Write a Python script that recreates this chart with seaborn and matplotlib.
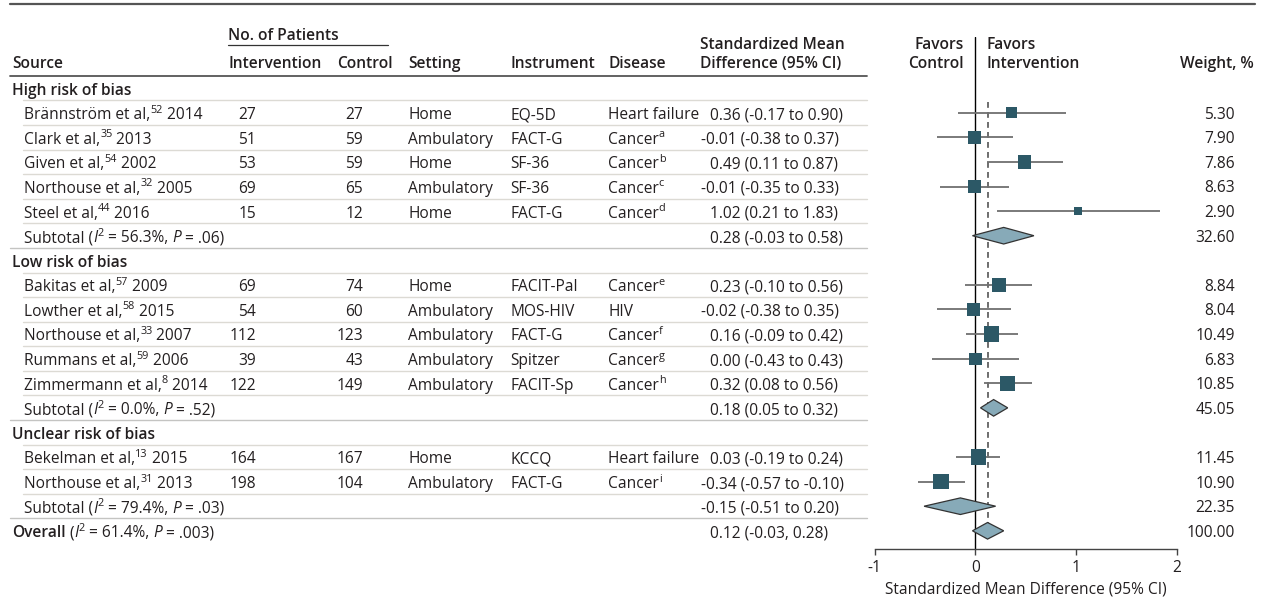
import matplotlib
matplotlib.use("Agg")
import matplotlib.pyplot as plt
import pandas as pd
import seaborn as sns

# study level data
study_names = ["Brännström et al,", "Clark et al,", "Given et al,", "Northouse et al,", "Steel et al,",
               "Bakitas et al,", "Lowther et al,", "Northouse et al,", "Rummans et al,", "Zimmermann et al,",
               "Bekelman et al,", "Northouse et al,"]
study_refs = ["52", "35", "54", "32", "44", "57", "58", "33", "59", "8", "13", "31"]
study_years = ["2014", "2013", "2002", "2005", "2016", "2009", "2015", "2007", "2006", "2014", "2015", "2013"]
study_group = [0, 0, 0, 0, 0, 1, 1, 1, 1, 1, 2, 2]
n_intervention = [27, 51, 53, 69, 15, 69, 54, 112, 39, 122, 164, 198]
n_control = [27, 59, 59, 65, 12, 74, 60, 123, 43, 149, 167, 104]
settings = ["Home", "Ambulatory", "Home", "Ambulatory", "Home", "Home", "Ambulatory", "Ambulatory",
            "Ambulatory", "Ambulatory", "Home", "Ambulatory"]
instruments = ["EQ-5D", "FACT-G", "SF-36", "SF-36", "FACT-G", "FACIT-Pal", "MOS-HIV", "FACT-G",
               "Spitzer", "FACIT-Sp", "KCCQ", "FACT-G"]
diseases = ["Heart failure", "Cancer", "Cancer", "Cancer", "Cancer", "Cancer", "HIV", "Cancer",
            "Cancer", "Cancer", "Heart failure", "Cancer"]
disease_notes = ["", "a", "b", "c", "d", "e", "", "f", "g", "h", "", "i"]
smd = [0.36, -0.01, 0.49, -0.01, 1.02, 0.23, -0.02, 0.16, 0.00, 0.32, 0.03, -0.34]
ci_low = [-0.17, -0.38, 0.11, -0.35, 0.21, -0.10, -0.38, -0.09, -0.43, 0.08, -0.19, -0.57]
ci_high = [0.90, 0.37, 0.87, 0.33, 1.83, 0.56, 0.35, 0.42, 0.43, 0.56, 0.24, -0.10]
weights = [5.30, 7.90, 7.86, 8.63, 2.90, 8.84, 8.04, 10.49, 6.83, 10.85, 11.45, 10.90]

# subgroup data
group_names = ["High risk of bias", "Low risk of bias", "Unclear risk of bias"]
subtotal_i2 = ["56.3%", "0.0%", "79.4%"]
subtotal_p = [".06", ".52", ".03"]
subtotal_smd = [0.28, 0.18, -0.15]
subtotal_low = [-0.03, 0.05, -0.51]
subtotal_high = [0.58, 0.32, 0.20]
subtotal_weight = [32.60, 45.05, 22.35]

overall_i2 = "61.4%"
overall_p = ".003"
overall_smd = 0.12
overall_low = -0.03
overall_high = 0.28
overall_weight = 100.00

x_ticks = [-1, 0, 1, 2]

TEXT = "#231f20"
SQUARE = "#2c5866"
DIAMOND = "#87aab8"
FS = 11.2
SUP = 7.8

sns.set_theme(style="white")
plt.rcParams["font.family"] = ["Open Sans", "DejaVu Sans"]
plt.rcParams["axes.unicode_minus"] = False
plt.rcParams["text.color"] = TEXT

W, H = 1265, 615
fig = plt.figure(figsize=(W / 100, H / 100), dpi=100)
base = fig.add_axes([0, 0, 1, 1])
base.set_xlim(0, W)
base.set_ylim(H, 0)
base.axis("off")
renderer = fig.canvas.get_renderer()


def ry(r):
    return 88.1 + 24.59 * r


def text_width(s, **kw):
    a = base.text(0, 0, "|" + s + "|", **kw)
    b = base.text(0, 0, "||", **kw)
    w = a.get_window_extent(renderer).width - b.get_window_extent(renderer).width
    a.remove()
    b.remove()
    return w


def draw_parts(x, y, parts):
    # parts: (string, kind) with kind in normal / bold / italic / sup
    for s, kind in parts:
        kw = {"fontsize": FS}
        dy = 0
        if kind == "bold":
            kw["fontweight"] = "semibold"
        elif kind == "italic":
            kw["fontstyle"] = "italic"
        elif kind == "sup":
            kw["fontsize"] = SUP
            dy = -6.5
        base.text(x, y + dy, s, va="baseline", ha="left", **kw)
        x += text_width(s, **kw)


# build row layout
rows = []
for g, gname in enumerate(group_names):
    rows.append(("group", g))
    for i, sg in enumerate(study_group):
        if sg == g:
            rows.append(("study", i))
    rows.append(("subtotal", g))
rows.append(("overall", None))

# header
base.plot([10, 1255], [4, 4], color="#555555", lw=1.6)
base.plot([10, 867], [76, 76], color="#555555", lw=1.3)
base.plot([228, 388], [45, 45], color="#333333", lw=0.9)
hdr = {"fontsize": FS, "fontweight": "semibold", "va": "baseline"}
base.text(228, 39.5, "No. of Patients", ha="left", **hdr)
base.text(12, 68.5, "Source", ha="left", **hdr)
base.text(228, 68.5, "Intervention", ha="left", **hdr)
base.text(337, 68.5, "Control", ha="left", **hdr)
base.text(408, 68.5, "Setting", ha="left", **hdr)
base.text(510, 68.5, "Instrument", ha="left", **hdr)
base.text(608, 68.5, "Disease", ha="left", **hdr)
base.text(700, 49, "Standardized Mean", ha="left", **hdr)
base.text(700, 68.5, "Difference (95% CI)", ha="left", **hdr)
base.text(964, 49, "Favors", ha="right", **hdr)
base.text(964, 68.5, "Control", ha="right", **hdr)
base.text(986, 49, "Favors", ha="left", **hdr)
base.text(986, 68.5, "Intervention", ha="left", **hdr)
base.text(1254, 68.5, "Weight, %", ha="right", **hdr)


def ci_text(y, est, lo, hi, sep=" to "):
    s = f"{est:.2f} ({lo:.2f}{sep}{hi:.2f})"
    base.text(701 if est < 0 else 710, y, s, fontsize=FS, va="baseline", ha="left")


for r, (kind, idx) in enumerate(rows):
    yc = ry(r)
    yb = yc + 6.5
    if kind != "overall":
        x0 = 10 if kind == "subtotal" else 23
        col = "#c4c4c2" if kind == "subtotal" else "#dcdad4"
        base.plot([x0, 867], [yc + 12.3, yc + 12.3], color=col, lw=1.0)
    if kind == "group":
        draw_parts(12, yb, [(group_names[idx], "bold")])
    elif kind == "study":
        draw_parts(24, yb, [(study_names[idx], "normal"), (study_refs[idx], "sup"),
                            (" " + study_years[idx], "normal")])
        base.text(256, yb, str(n_intervention[idx]), fontsize=FS, ha="right", va="baseline")
        base.text(363, yb, str(n_control[idx]), fontsize=FS, ha="right", va="baseline")
        base.text(408, yb, settings[idx], fontsize=FS, ha="left", va="baseline")
        base.text(510, yb, instruments[idx], fontsize=FS, ha="left", va="baseline")
        draw_parts(608, yb, [(diseases[idx], "normal"), (disease_notes[idx], "sup")])
        ci_text(yb, smd[idx], ci_low[idx], ci_high[idx])
        base.text(1235, yc + 6, f"{weights[idx]:.2f}", fontsize=FS, ha="right", va="baseline")
    elif kind == "subtotal":
        draw_parts(24, yb, [("Subtotal (", "normal"), ("I", "italic"), ("2", "sup"),
                            (" = " + subtotal_i2[idx] + ", ", "normal"), ("P", "italic"),
                            (" = " + subtotal_p[idx] + ")", "normal")])
        ci_text(yb, subtotal_smd[idx], subtotal_low[idx], subtotal_high[idx])
        base.text(1235, yc + 6, f"{subtotal_weight[idx]:.2f}", fontsize=FS, ha="right", va="baseline")
    else:
        draw_parts(12, yb, [("Overall", "bold"), (" (", "normal"), ("I", "italic"), ("2", "sup"),
                            (" = " + overall_i2 + ", ", "normal"), ("P", "italic"),
                            (" = " + overall_p + ")", "normal")])
        ci_text(yb, overall_smd, overall_low, overall_high, sep=", ")
        base.text(1235, yc + 6, f"{overall_weight:.2f}", fontsize=FS, ha="right", va="baseline")

# forest panel
row_of_study = {idx: r for r, (k, idx) in enumerate(rows) if k == "study"}
row_of_sub = {idx: r for r, (k, idx) in enumerate(rows) if k == "subtotal"}
overall_row = len(rows) - 1

df = pd.DataFrame({"smd": smd, "low": ci_low, "high": ci_high, "weight": weights,
                   "row": [row_of_study[i] for i in range(len(smd))]})

ax = fig.add_axes([874.7 / W, (H - 549) / H, 302.3 / W, 512 / H])
ax.set_facecolor("none")
ax.set_xlim(-1, 2)
ax.set_ylim(18.74, -2.08)

ax.axvline(0, color="black", lw=1.0, zorder=1)
ax.vlines(overall_smd, 0.55, 18.45, colors="#555555", lw=1.2, linestyles=(0, (3.5, 2.5)), zorder=1)
ax.hlines(df["row"], df["low"], df["high"], colors="#707070", lw=1.3, zorder=2)
k = 11.45
sns.scatterplot(data=df, x="smd", y="row", size="weight", sizes=(k * min(weights), k * max(weights)),
                size_norm=(min(weights), max(weights)), marker="s", color=SQUARE, linewidth=0,
                legend=False, ax=ax, zorder=3)

half_h = 8.3 / 24.59
for g in range(len(group_names)):
    r = row_of_sub[g]
    ax.fill([subtotal_low[g], subtotal_smd[g], subtotal_high[g], subtotal_smd[g]],
            [r, r - half_h, r, r + half_h], facecolor=DIAMOND, edgecolor="#333333", lw=0.9, zorder=3)
ax.fill([overall_low, overall_smd, overall_high, overall_smd],
        [overall_row, overall_row - half_h, overall_row, overall_row + half_h],
        facecolor=DIAMOND, edgecolor="#333333", lw=0.9, zorder=3)

for side in ["left", "right", "top"]:
    ax.spines[side].set_visible(False)
ax.spines["bottom"].set_color("#444444")
ax.spines["bottom"].set_linewidth(1.0)
ax.set_yticks([])
ax.set_xticks(x_ticks)
ax.set_xticklabels([str(t) for t in x_ticks])
ax.tick_params(axis="x", direction="out", length=4.5, width=1.0, color="#444444",
               labelsize=FS, labelcolor=TEXT, pad=3.5, bottom=True)
ax.set_xlabel("Standardized Mean Difference (95% CI)", fontsize=FS, color=TEXT, labelpad=4)
ax.set_ylabel("")
ax.grid(False)

fig.savefig("out.png", dpi=100)
